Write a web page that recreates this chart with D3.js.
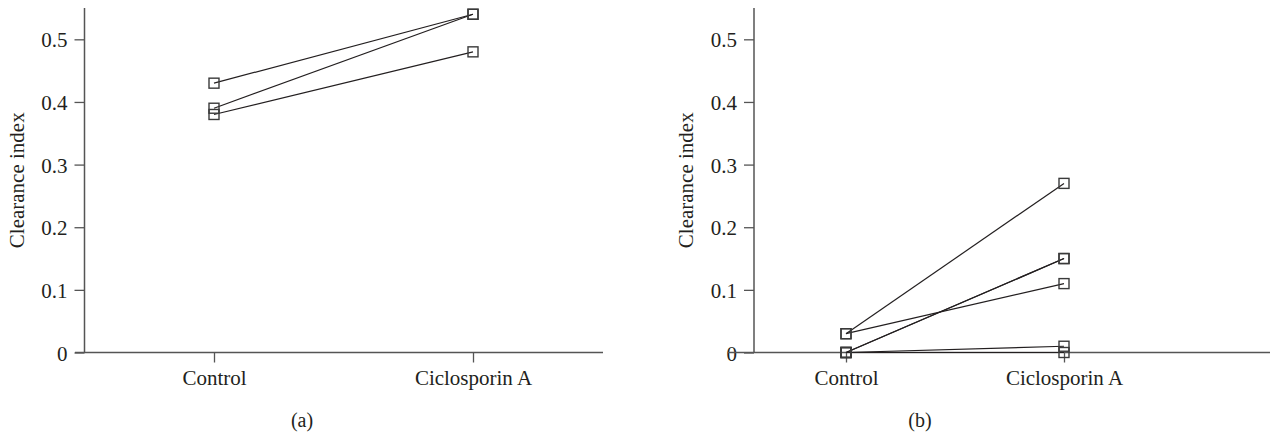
<!DOCTYPE html>
<html>
<head>
<meta charset="utf-8">
<script src="https://cdn.jsdelivr.net/npm/d3@7"></script>
<style>
  body { margin: 0; background: #fff; }
  svg { display: block; }
  svg text { font-family: 'Liberation Serif', 'Times New Roman', Times, 'DejaVu Serif', serif !important; fill: #231f20; }
</style>
</head>
<body>
<div id="chart"></div>
<script>
// data
const groups = ['Control', 'Ciclosporin A'];
const yTicks = [0, 0.1, 0.2, 0.3, 0.4, 0.5];
const yTickLabels = ['0', '0.1', '0.2', '0.3', '0.4', '0.5'];

// panel (a): one pair per subject, [control, ciclosporin]
const controlA = [0.43, 0.39, 0.38];
const ciclosporinA = [0.54, 0.54, 0.48];

// panel (b)
const controlB = [0.03, 0.03, 0, 0, 0, 0];
const ciclosporinB = [0.27, 0.11, 0.15, 0.15, 0.01, 0];

const width = 1270;
const height = 435;

const svg = d3.select('#chart')
    .append('svg')
    .attr('width', width)
    .attr('height', height);

function drawPanel(opts) {
    const { axisX, xStart, xEnd, pointRange, control, ciclo, caption, captionX } = opts;
    const yTop = 8, yBottom = 352.5;

    const y = d3.scaleLinear().domain([0, 0.55]).range([yBottom, yTop]);
    const x = d3.scalePoint().domain(groups).range(pointRange);

    const g = svg.append('g');

    // y axis
    const yAxis = g.append('g')
        .attr('transform', `translate(${axisX},0)`)
        .call(d3.axisLeft(y)
            .tickValues(yTicks)
            .tickFormat((d, i) => yTickLabels[i])
            .tickSize(10)
            .tickSizeOuter(0)
            .tickPadding(7));
    yAxis.attr('font-family', null).attr('font-size', null);
    yAxis.select('.domain').remove();
    yAxis.selectAll('.tick line').attr('stroke', '#555').attr('stroke-width', 1.3);
    yAxis.selectAll('.tick text')
        .attr('dy', '0.36em')
        .style('font-size', '21px');

    g.append('line')
        .attr('x1', axisX).attr('x2', axisX)
        .attr('y1', yTop).attr('y2', yBottom)
        .attr('stroke', '#555').attr('stroke-width', 1.5);

    // x axis
    const xAxis = g.append('g')
        .attr('transform', `translate(0,${yBottom})`)
        .call(d3.axisBottom(x).tickSize(10).tickSizeOuter(0).tickPadding(8));
    xAxis.attr('font-family', null).attr('font-size', null);
    xAxis.select('.domain').remove();
    xAxis.selectAll('.tick line').attr('stroke', '#555').attr('stroke-width', 1.3);
    xAxis.selectAll('.tick text')
        .style('font-size', '21px');

    g.append('line')
        .attr('x1', xStart).attr('x2', xEnd)
        .attr('y1', yBottom).attr('y2', yBottom)
        .attr('stroke', '#555').attr('stroke-width', 1.5);

    // y label
    g.append('text')
        .attr('transform', `translate(${axisX - 61},${(yTop + yBottom) / 2}) rotate(-90)`)
        .attr('text-anchor', 'middle')
        .style('font-size', '21px')
        .text('Clearance index');

    // paired lines
    const pairs = control.map((c, i) => [c, ciclo[i]]);
    g.append('g')
        .selectAll('line')
        .data(pairs)
        .enter().append('line')
        .attr('x1', x(groups[0]))
        .attr('y1', d => y(d[0]))
        .attr('x2', x(groups[1]))
        .attr('y2', d => y(d[1]))
        .attr('stroke', '#231f20')
        .attr('stroke-width', 1.2);

    // square markers
    const pts = [];
    pairs.forEach(p => {
        pts.push({ g: groups[0], v: p[0] });
        pts.push({ g: groups[1], v: p[1] });
    });
    g.append('g')
        .selectAll('rect')
        .data(pts)
        .enter().append('rect')
        .attr('x', d => x(d.g) - 5)
        .attr('y', d => y(d.v) - 5)
        .attr('width', 10)
        .attr('height', 10)
        .attr('fill', 'none')
        .attr('stroke', '#3a3a3a')
        .attr('stroke-width', 1.4);

    // caption
    g.append('text')
        .attr('x', captionX)
        .attr('y', 427)
        .attr('text-anchor', 'middle')
        .style('font-size', '20px')
        .text(caption);
}

drawPanel({
    axisX: 84.5, xStart: 75, xEnd: 603,
    pointRange: [214, 473],
    control: controlA, ciclo: ciclosporinA,
    caption: '(a)', captionX: 302
});

drawPanel({
    axisX: 754, xStart: 728, xEnd: 1270,
    pointRange: [846, 1064],
    control: controlB, ciclo: ciclosporinB,
    caption: '(b)', captionX: 920
});
</script>
</body>
</html>
